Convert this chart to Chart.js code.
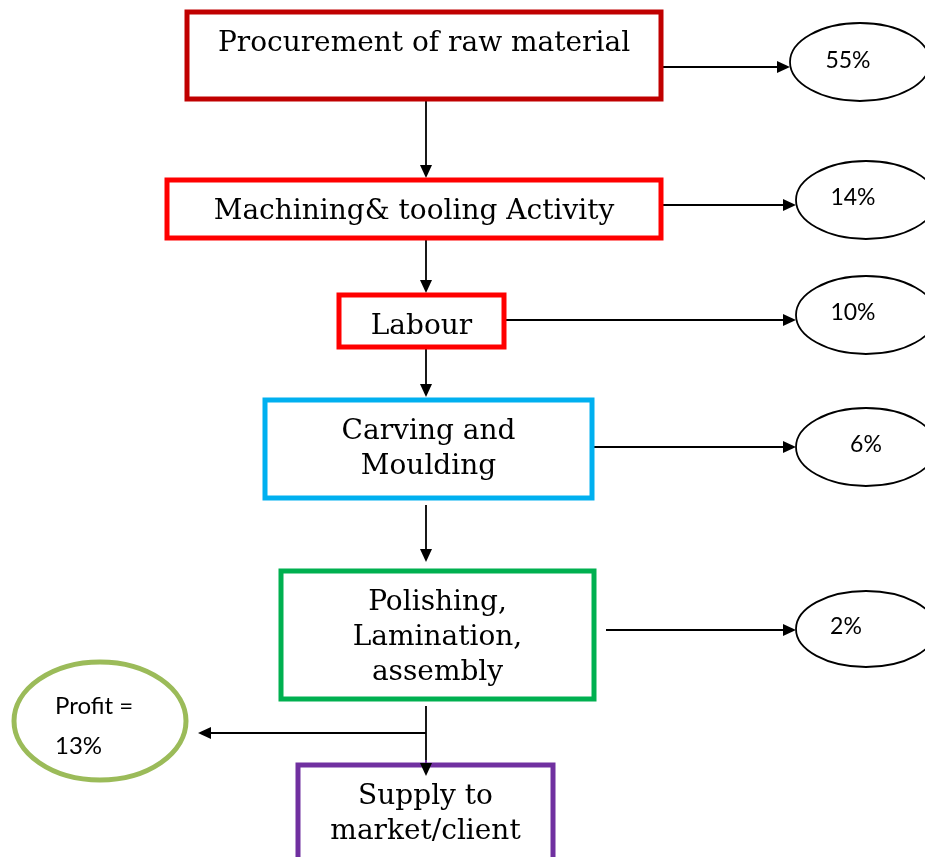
<!DOCTYPE html>
<html lang="en">
<head>
  <meta charset="UTF-8">
  <title>Cost flow</title>
  <script src="https://cdn.jsdelivr.net/npm/chart.js"></script>
  <style>
    html, body { margin: 0; padding: 0; background: #fff; }
    #flow { display: block; }
  </style>
</head>
<body>
  <canvas id="flow" width="925" height="857"></canvas>

  <script>
    // process steps and the share of cost taken at each step
    const steps = [
      ['Procurement of raw material'],
      ['Machining& tooling Activity'],
      ['Labour'],
      ['Carving and', 'Moulding'],
      ['Polishing,', 'Lamination,', 'assembly'],
      ['Supply to', 'market/client']
    ];
    const shares = ['55%', '14%', '10%', '6%', '2%'];
    const profitLabel = ['Profit =', '13%'];
    const stepColors = ['#C00000', '#FF0000', '#FF0000', '#00B0F0', '#00B050', '#7030A0'];

    // layout in scale units (x 0..925, y 0..857 from top)
    const boxes = [
      { x0: 187, x1: 661, y0: 12, y1: 99, textY: [44] },
      { x0: 167, x1: 661, y0: 180, y1: 238, textY: [212] },
      { x0: 339, x1: 504, y0: 295, y1: 347, textY: [327] },
      { x0: 265, x1: 592, y0: 400, y1: 498, textY: [432, 467] },
      { x0: 281, x1: 594, y0: 571, y1: 699, textY: [603, 638, 673] },
      { x0: 298, x1: 553, y0: 765, y1: 862, textY: [797, 832] }
    ];
    const ovals = [
      { cx: 860, cy: 62, rx: 70, ry: 39, from: 663, y: 67, tx: 848, ty: 61 },
      { cx: 866, cy: 200, rx: 70, ry: 39, from: 663, y: 205, tx: 853, ty: 198 },
      { cx: 866, cy: 315, rx: 70, ry: 39, from: 506, y: 320, tx: 853, ty: 313 },
      { cx: 866, cy: 447, rx: 70, ry: 39, from: 594, y: 447, tx: 866, ty: 445 },
      { cx: 866, cy: 629, rx: 70, ry: 38, from: 606, y: 630, tx: 846, ty: 627 }
    ];
    const downArrows = [[101, 178], [240, 293], [349, 397], [505, 562], [706, 776]];
    const spineX = 426;
    const profitOval = { cx: 100, cy: 721, rx: 86, ry: 59, lineY: 733, tipX: 198, tx: 55, ty: [706, 746] };

    function arrow(ctx, x0, y0, x1, y1) {
      const a = Math.atan2(y1 - y0, x1 - x0);
      const len = 13, half = 6;
      ctx.beginPath();
      ctx.moveTo(x0, y0);
      ctx.lineTo(x1 - Math.cos(a) * len, y1 - Math.sin(a) * len);
      ctx.stroke();
      ctx.beginPath();
      ctx.moveTo(x1, y1);
      ctx.lineTo(x1 - Math.cos(a) * len - Math.sin(a) * half, y1 - Math.sin(a) * len + Math.cos(a) * half);
      ctx.lineTo(x1 - Math.cos(a) * len + Math.sin(a) * half, y1 - Math.sin(a) * len - Math.cos(a) * half);
      ctx.closePath();
      ctx.fill();
    }

    const flowPlugin = {
      id: 'flow',
      afterDraw(chart) {
        const ctx = chart.ctx;
        const X = v => chart.scales.x.getPixelForValue(v);
        const Y = v => chart.scales.y.getPixelForValue(v);
        ctx.save();

        // connectors
        ctx.strokeStyle = '#000';
        ctx.fillStyle = '#000';
        ctx.lineWidth = 1.8;
        downArrows.forEach(([a, b]) => arrow(ctx, X(spineX), Y(a), X(spineX), Y(b)));
        ovals.forEach(o => arrow(ctx, X(o.from), Y(o.y), X(o.cx - o.rx), Y(o.y)));
        arrow(ctx, X(spineX), Y(profitOval.lineY), X(profitOval.tipX), Y(profitOval.lineY));

        // step boxes
        boxes.forEach((b, i) => {
          ctx.fillStyle = '#fff';
          ctx.fillRect(X(b.x0), Y(b.y0), X(b.x1) - X(b.x0), Y(b.y1) - Y(b.y0));
          ctx.strokeStyle = stepColors[i];
          ctx.lineWidth = 5;
          ctx.strokeRect(X(b.x0), Y(b.y0), X(b.x1) - X(b.x0), Y(b.y1) - Y(b.y0));
          ctx.fillStyle = '#000';
          ctx.font = '28px "DejaVu Serif"';
          ctx.textAlign = 'center';
          ctx.textBaseline = 'middle';
          const cx = (X(b.x0) + X(b.x1)) / 2;
          steps[i].forEach((line, j) => ctx.fillText(line, cx, Y(b.textY[j])));
        });

        // redraw the arrow tip that overlaps the last box
        ctx.fillStyle = '#000';
        ctx.lineWidth = 1.8;
        arrow(ctx, X(spineX), Y(760), X(spineX), Y(776));

        // share ovals
        ovals.forEach((o, i) => {
          ctx.beginPath();
          ctx.ellipse(X(o.cx), Y(o.cy), o.rx, o.ry, 0, 0, Math.PI * 2);
          ctx.fillStyle = '#fff';
          ctx.fill();
          ctx.strokeStyle = '#000';
          ctx.lineWidth = 1.8;
          ctx.stroke();
          ctx.fillStyle = '#000';
          ctx.font = '23px Lato';
          ctx.textAlign = 'center';
          ctx.textBaseline = 'middle';
          ctx.fillText(shares[i], X(o.tx), Y(o.ty));
        });

        // profit oval
        const p = profitOval;
        ctx.beginPath();
        ctx.ellipse(X(p.cx), Y(p.cy), p.rx, p.ry, 0, 0, Math.PI * 2);
        ctx.fillStyle = '#fff';
        ctx.fill();
        ctx.strokeStyle = '#9BBB59';
        ctx.lineWidth = 5;
        ctx.stroke();
        ctx.fillStyle = '#000';
        ctx.font = '24px Lato';
        ctx.textAlign = 'left';
        ctx.textBaseline = 'middle';
        profitLabel.forEach((line, j) => ctx.fillText(line, X(p.tx), Y(p.ty[j])));

        ctx.restore();
      }
    };

    new Chart(document.getElementById('flow'), {
      type: 'scatter',
      data: { datasets: [{ data: [], pointRadius: 0 }] },
      options: {
        responsive: false,
        animation: false,
        layout: { padding: 0 },
        plugins: { legend: { display: false }, tooltip: { enabled: false } },
        scales: {
          x: { type: 'linear', min: 0, max: 925, display: false },
          y: { type: 'linear', min: 0, max: 857, reverse: true, display: false }
        }
      },
      plugins: [flowPlugin]
    });
  </script>
</body>
</html>
